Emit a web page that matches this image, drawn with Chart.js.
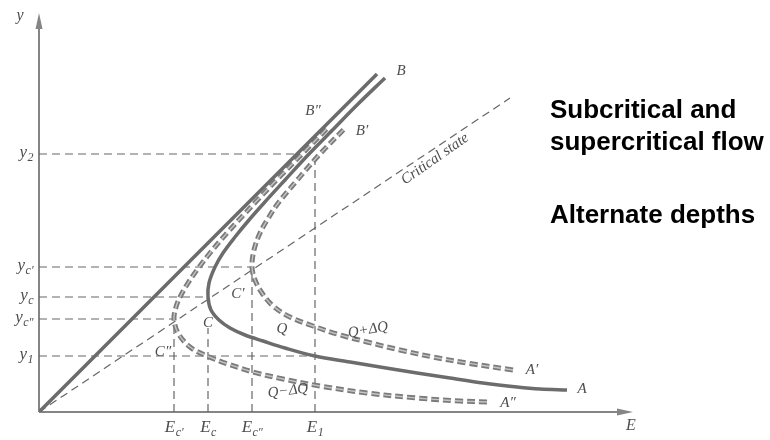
<!DOCTYPE html>
<html>
<head>
<meta charset="utf-8">
<script src="https://cdn.jsdelivr.net/npm/chart.js@4.4.1/dist/chart.umd.min.js"></script>
<style>
  html, body { margin: 0; padding: 0; background: #fff; }
  #wrap { width: 770px; height: 440px; }
</style>
</head>
<body>
<div id="wrap"><canvas id="energyChart" width="770" height="440"></canvas></div>
<script>
// specific energy E (x) against depth y, for discharges Q, Q+dQ, Q-dQ
// each curve runs from the shallow (A) end, through the nose, to the deep (B) end
const qE = [5.28, 5.01, 4.78, 4.44, 4.11, 3.78, 3.44, 3.11, 2.76, 2.46, 2.24, 2.06, 1.91, 1.80, 1.72, 1.69, 1.70, 1.76, 1.84, 1.96, 2.10, 2.25, 2.46, 2.69, 2.935, 3.19, 3.46];
const qY = [0.22, 0.23, 0.25, 0.29, 0.34, 0.39, 0.445, 0.50, 0.56, 0.64, 0.71, 0.77, 0.84, 0.92, 1.02, 1.15, 1.29, 1.45, 1.59, 1.75, 1.92, 2.09, 2.32, 2.57, 2.82, 3.08, 3.34];

const qPlusE = [4.74, 4.28, 3.94, 3.61, 3.28, 2.98, 2.74, 2.51, 2.34, 2.23, 2.16, 2.13, 2.15, 2.21, 2.30, 2.40, 2.60, 2.80, 3.07];
const qPlusY = [0.42, 0.49, 0.55, 0.62, 0.70, 0.78, 0.86, 0.95, 1.06, 1.19, 1.32, 1.45, 1.62, 1.79, 1.95, 2.10, 2.34, 2.57, 2.85];

const qMinusE = [4.48, 4.21, 3.78, 3.28, 2.81, 2.44, 2.14, 1.89, 1.68, 1.51, 1.39, 1.35, 1.37, 1.41, 1.49, 1.58, 1.71, 1.88, 2.045, 2.175, 2.395, 2.63, 2.885];
const qMinusY = [0.10, 0.11, 0.14, 0.19, 0.26, 0.33, 0.40, 0.48, 0.56, 0.65, 0.79, 0.93, 1.05, 1.15, 1.29, 1.42, 1.59, 1.79, 1.97, 2.11, 2.34, 2.58, 2.84];

// E = y line and the critical state line y = 2E/3
const asymptoteE = [0, 3.38];
const asymptoteY = [0, 3.38];
const criticalE = [0, 4.71];
const criticalY = [0, 3.14];

// named depths / energies and where their guide lines stop
const yTickValues = [0.56, 0.93, 1.15, 1.45, 2.58];
const yTickSubs = ['1', 'c\u2033', 'c', 'c\u2032', '2'];
const yGuideStopE = [2.76, 1.35, 1.69, 2.13, 2.58];
const xTickValues = [1.35, 1.69, 2.13, 2.76];
const xTickSubs = ['c\u2032', 'c', 'c\u2033', '1'];
const xGuideStopY = [0.93, 0.84, 1.45, 2.55];

// curve annotations: text, E, y, rotation (deg)
const markLabels = [
  ['B', 3.62, 3.41, 0],
  ['B\u2033', 2.74, 3.01, 0],
  ['B\u2032', 3.23, 2.81, 0],
  ['C\u2032', 1.99, 1.18, 0],
  ['C', 1.69, 0.89, 0],
  ['C\u2033', 1.24, 0.60, 0],
  ['Q', 2.43, 0.83, 0],
  ['Q+\u0394Q', 3.29, 0.82, -10],
  ['Q\u2212\u0394Q', 2.49, 0.21, -7],
  ['A\u2032', 4.93, 0.42, 0],
  ['A', 5.43, 0.23, 0],
  ['A\u2033', 4.69, 0.09, 0],
  ['Critical state', 3.96, 2.53, -35]
];

const pts = (xs, ys) => xs.map((x, i) => ({ x: x, y: ys[i] }));

const thinDash = { borderColor: '#666', borderWidth: 1.2, borderDash: [8, 5], tension: 0, order: 6 };
const thickDash = { borderColor: '#7b7b7b', borderWidth: 5, borderDash: [8, 4], tension: 0.35, order: 3 };
const dashCore = { borderColor: '#c4c4c4', borderWidth: 1.4, borderDash: [8, 4], tension: 0.35, order: 1 };
const solidLine = { borderColor: '#6c6c6c', borderWidth: 3.5, order: 2 };

const guides = [];
yTickValues.forEach((v, i) => guides.push(pts([0, yGuideStopE[i]], [v, v])));
xTickValues.forEach((v, i) => guides.push(pts([v, v], [0, xGuideStopY[i]])));

const datasets = [
  ...guides.map(d => Object.assign({ data: d }, thinDash)),
  Object.assign({ data: pts(criticalE, criticalY) }, thinDash),
  Object.assign({ data: pts(asymptoteE, asymptoteY), tension: 0 }, solidLine),
  Object.assign({ data: pts(qE, qY), tension: 0.35 }, solidLine),
  Object.assign({ data: pts(qPlusE, qPlusY) }, thickDash),
  Object.assign({ data: pts(qMinusE, qMinusY) }, thickDash),
  Object.assign({ data: pts(qPlusE, qPlusY) }, dashCore),
  Object.assign({ data: pts(qMinusE, qMinusY) }, dashCore)
].map(d => Object.assign({ showLine: true, pointRadius: 0, fill: false, borderJoinStyle: 'round' }, d));

const serif = '"Liberation Serif", "DejaVu Serif", serif';

// text with a lowered subscript, e.g. y_c'
function drawSub(ctx, base, sub, x, y, align) {
  ctx.font = 'italic 17px ' + serif;
  const wb = ctx.measureText(base).width;
  ctx.font = 'italic 12px ' + serif;
  const ws = ctx.measureText(sub).width;
  const left = align === 'right' ? x - wb - ws : x - (wb + ws) / 2;
  ctx.textAlign = 'left';
  ctx.textBaseline = 'alphabetic';
  ctx.font = 'italic 17px ' + serif;
  ctx.fillText(base, left, y);
  ctx.font = 'italic 12px ' + serif;
  ctx.fillText(sub, left + wb + 0.5, y + 4);
}

const diagramText = {
  id: 'diagramText',
  beforeDatasetsDraw(chart) {
    const { ctx, chartArea: a } = chart;
    ctx.save();
    ctx.strokeStyle = '#858585';
    ctx.fillStyle = '#858585';
    ctx.lineWidth = 2;
    ctx.beginPath();
    ctx.moveTo(a.left, a.bottom);
    ctx.lineTo(a.right, a.bottom);
    ctx.moveTo(a.left, a.bottom);
    ctx.lineTo(a.left, a.top + 8);
    ctx.stroke();
    // arrow heads
    ctx.beginPath();
    ctx.moveTo(a.right + 4, a.bottom);
    ctx.lineTo(a.right - 12, a.bottom - 3.5);
    ctx.lineTo(a.right - 12, a.bottom + 3.5);
    ctx.closePath();
    ctx.fill();
    ctx.beginPath();
    ctx.moveTo(a.left, a.top + 1);
    ctx.lineTo(a.left - 3.5, a.top + 17);
    ctx.lineTo(a.left + 3.5, a.top + 17);
    ctx.closePath();
    ctx.fill();
    ctx.restore();
  },
  afterDatasetsDraw(chart) {
    const { ctx, chartArea: a, scales: { x, y } } = chart;
    ctx.save();
    ctx.fillStyle = '#4d4d4d';

    yTickValues.forEach((v, i) => drawSub(ctx, 'y', yTickSubs[i], a.left - 6, y.getPixelForValue(v) + 3, 'right'));
    xTickValues.forEach((v, i) => drawSub(ctx, 'E', xTickSubs[i], x.getPixelForValue(v), a.bottom + 20, 'center'));

    ctx.font = 'italic 16px ' + serif;
    ctx.textAlign = 'center';
    ctx.textBaseline = 'middle';
    ctx.fillText('y', a.left - 19, a.top + 4);
    ctx.fillText('E', a.right + 2, a.bottom + 14);

    ctx.font = 'italic 15px ' + serif;
    markLabels.forEach(([t, ex, ey, rot]) => {
      ctx.save();
      ctx.translate(x.getPixelForValue(ex), y.getPixelForValue(ey));
      ctx.rotate(rot * Math.PI / 180);
      ctx.fillText(t, 0, 0);
      ctx.restore();
    });

    ctx.fillStyle = '#000';
    ctx.font = 'bold 26px "Liberation Sans", Arial, sans-serif';
    ctx.textAlign = 'left';
    ctx.textBaseline = 'alphabetic';
    ctx.fillText('Subcritical and', 550, 118);
    ctx.fillText('supercritical flow', 550, 150);
    ctx.fillText('Alternate depths', 550, 223);
    ctx.restore();
  }
};

new Chart(document.getElementById('energyChart'), {
  type: 'scatter',
  data: { datasets: datasets },
  options: {
    responsive: false,
    animation: false,
    layout: { padding: { left: 39, right: 141, top: 12, bottom: 28 } },
    scales: {
      x: { type: 'linear', display: false, min: 0, max: 5.9 },
      y: { type: 'linear', display: false, min: 0, max: 4.0 }
    },
    plugins: {
      legend: { display: false },
      tooltip: { enabled: false }
    }
  },
  plugins: [diagramText]
});
</script>
</body>
</html>
